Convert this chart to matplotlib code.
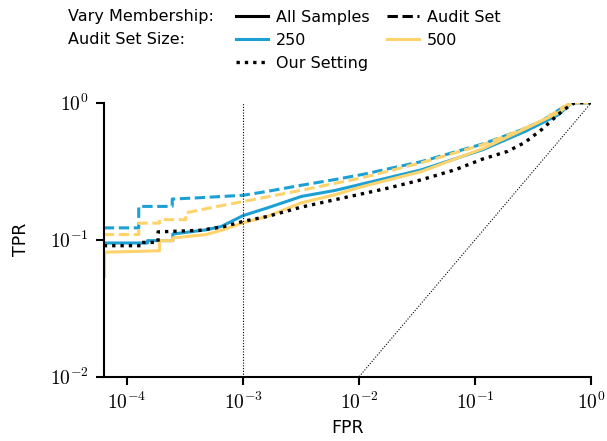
import matplotlib
matplotlib.use("Agg")
import matplotlib.pyplot as plt
from matplotlib.lines import Line2D
from matplotlib.ticker import NullLocator, FuncFormatter
import numpy as np

plt.rcParams["mathtext.fontset"] = "cm"
plt.rcParams["font.family"] = "DejaVu Sans"

blue = "#1ca0d4"
yellow = "#ffd36b"
dash = (0, (3.4, 1.5))
dots = (0, (1, 1.5))

# 250 samples, vary audit set membership
fpr_250_audit = [6.3e-5, 1.26e-4, 1.26e-4, 2.45e-4, 2.45e-4, 4.0e-4, 1.0e-3, 1.6e-3, 3.2e-3,
                 6.2e-3, 1.08e-2, 3.45e-2, 0.116, 0.24, 0.37, 0.52, 0.66, 1.0]
tpr_250_audit = [0.122, 0.122, 0.175, 0.175, 0.198, 0.202, 0.211, 0.225, 0.250,
                 0.275, 0.300, 0.372, 0.500, 0.625, 0.730, 0.880, 1.0, 1.0]

# 500 samples, vary audit set membership
fpr_500_audit = [6.3e-5, 1.26e-4, 1.26e-4, 1.9e-4, 1.9e-4, 3.2e-4, 3.2e-4, 6.0e-4, 1.0e-3,
                 1.6e-3, 3.2e-3, 6.2e-3, 1.08e-2, 3.45e-2, 0.116, 0.24, 0.37, 0.52, 0.66, 1.0]
tpr_500_audit = [0.109, 0.109, 0.132, 0.132, 0.140, 0.140, 0.157, 0.175, 0.190,
                 0.205, 0.230, 0.258, 0.284, 0.365, 0.494, 0.625, 0.735, 0.880, 1.0, 1.0]

# 250 samples, vary all samples
fpr_250_all = [6.3e-5, 1.5e-4, 1.5e-4, 1.85e-4, 1.85e-4, 2.48e-4, 2.48e-4, 4.8e-4, 6.5e-4,
               1.0e-3, 1.63e-3, 3.18e-3, 6.2e-3, 1.08e-2, 3.45e-2, 0.116, 0.27, 0.52, 0.68, 1.0]
tpr_250_all = [0.0946, 0.0946, 0.0984, 0.0984, 0.0984, 0.0984, 0.110, 0.118, 0.125,
               0.150, 0.171, 0.207, 0.229, 0.256, 0.324, 0.454, 0.618, 0.817, 1.0, 1.0]

# 500 samples, vary all samples
fpr_500_all = [6.4e-5, 6.4e-5, 1.9e-4, 1.9e-4, 2.48e-4, 2.48e-4, 4.8e-4, 6.7e-4, 1.0e-3,
               1.63e-3, 3.18e-3, 6.2e-3, 1.08e-2, 3.45e-2, 0.116, 0.27, 0.52, 0.68, 1.0]
tpr_500_all = [0.054, 0.081, 0.083, 0.0984, 0.0984, 0.103, 0.109, 0.118, 0.133,
               0.148, 0.186, 0.213, 0.245, 0.315, 0.462, 0.646, 0.845, 1.0, 1.0]

# our setting
fpr_ours = [6.3e-5, 1.33e-4, 1.33e-4, 1.85e-4, 1.85e-4, 4.2e-4, 6.7e-4, 1.0e-3, 1.63e-3,
            3.18e-3, 6.2e-3, 1.08e-2, 1.77e-2, 3.45e-2, 6.7e-2, 0.116, 0.191, 0.268,
            0.373, 0.516, 0.61, 0.72, 1.0]
tpr_ours = [0.0904, 0.0904, 0.0955, 0.0955, 0.114, 0.117, 0.124, 0.136, 0.148,
            0.173, 0.196, 0.217, 0.238, 0.274, 0.324, 0.388, 0.442, 0.513,
            0.636, 0.817, 0.914, 1.0, 1.0]

fig = plt.figure(figsize=(6.07, 4.41), dpi=100)
ax = fig.add_axes([0.171, 0.146, 0.803, 0.621])

ax.plot(fpr_250_audit, tpr_250_audit, color=blue, lw=2.2, ls=dash)
ax.plot(fpr_500_audit, tpr_500_audit, color=yellow, lw=2.2, ls=dash)
ax.plot(fpr_250_all, tpr_250_all, color=blue, lw=2.2)
ax.plot(fpr_500_all, tpr_500_all, color=yellow, lw=2.2)
ax.plot(fpr_ours, tpr_ours, color="black", lw=2.4, ls=dots)

ax.axvline(1e-3, color="black", lw=0.8, ls=(0, (1, 1.5)))
ax.plot([1e-2, 1], [1e-2, 1], color="black", lw=0.8, ls=(0, (1, 1.5)))

ax.set_xscale("log")
ax.set_yscale("log")
ax.set_xlim(6.3e-5, 1)
ax.set_ylim(1e-2, 1)
ax.set_xticks([1e-4, 1e-3, 1e-2, 1e-1, 1])
ax.set_yticks([1e-2, 1e-1, 1])
ax.xaxis.set_minor_locator(NullLocator())
ax.yaxis.set_minor_locator(NullLocator())
pow10 = FuncFormatter(lambda v, pos: r"$10^{%d}$" % int(round(np.log10(v))))
ax.xaxis.set_major_formatter(pow10)
ax.yaxis.set_major_formatter(pow10)
ax.spines["top"].set_visible(False)
ax.spines["right"].set_visible(False)
for s in ["left", "bottom"]:
    ax.spines[s].set_linewidth(1.5)
ax.tick_params(width=1.5, length=6, labelsize=14, pad=5)
ax.set_xlabel("FPR", fontsize=12.5)
ax.set_ylabel("TPR", fontsize=12.5)
ax.xaxis.set_label_coords(0.5, -0.155)
ax.yaxis.set_label_coords(-0.152, 0.5)

fs = 11.5
fig.text(68 / 607, 1 - 17 / 441, "Vary Membership:", fontsize=fs, va="center")
fig.text(68 / 607, 1 - 40 / 441, "Audit Set Size:", fontsize=fs, va="center")

handles = [
    Line2D([], [], color="black", lw=2.2),
    Line2D([], [], color=blue, lw=2.2),
    Line2D([], [], color="black", lw=2.4, ls=dots),
    Line2D([], [], color="black", lw=2.2, ls=dash),
    Line2D([], [], color=yellow, lw=2.2),
    Line2D([], [], visible=False),
]
labels = ["All Samples", "250", "Our Setting", "Audit Set", "500", ""]
fig.legend(handles, labels, ncol=2, frameon=False, fontsize=fs,
           loc="upper left", bbox_to_anchor=(228 / 607, 1.0 - 2 / 441),
           handlelength=2.0, handletextpad=0.5, columnspacing=1.1,
           labelspacing=0.5, borderpad=0.0)

fig.savefig("out.png", dpi=100)
